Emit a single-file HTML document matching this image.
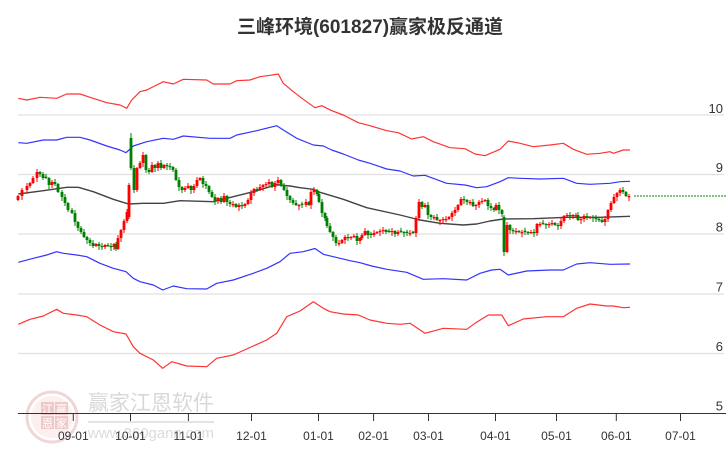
<!DOCTYPE html>
<html>
<head>
<meta charset="utf-8">
<style>
html,body{margin:0;padding:0;background:#fff;}
svg{display:block;}
text{font-family:"Liberation Sans","Noto Sans CJK SC",sans-serif;}
</style>
</head>
<body>
<svg id="chart" width="726" height="450" viewBox="0 0 726 450" xmlns="http://www.w3.org/2000/svg">
  <rect width="726" height="450" fill="#fff"/>
  <!-- title -->
  <text x="370" y="33" text-anchor="middle" font-size="19" font-weight="bold" fill="#333">三峰环境(601827)赢家极反通道</text>

  <!-- grid -->
  <g stroke="#e0e0e0" stroke-width="1.2">
    <line x1="18" y1="115" x2="724" y2="115"/>
    <line x1="18" y1="174.5" x2="724" y2="174.5"/>
    <line x1="18" y1="234" x2="724" y2="234"/>
    <line x1="18" y1="294" x2="724" y2="294"/>
    <line x1="18" y1="353.5" x2="724" y2="353.5"/>
  </g>
  <g font-size="13" fill="#333" text-anchor="end">
    <text x="723" y="113">10</text>
    <text x="723" y="172">9</text>
    <text x="723" y="231.5">8</text>
    <text x="723" y="291.5">7</text>
    <text x="723" y="351">6</text>
    <text x="723" y="410.5">5</text>
  </g>

  <!-- watermark -->
  <g opacity="0.9">
    <circle cx="52" cy="417" r="25" fill="none" stroke="#f0d2d2" stroke-width="3"/>
    <circle cx="52" cy="417" r="21" fill="#fbeeee" stroke="none"/>
    <rect x="41" y="402" width="13" height="13" fill="#eec4c4"/>
    <rect x="55" y="402" width="13" height="13" fill="#eec4c4"/>
    <rect x="41" y="416" width="13" height="13" fill="#eec4c4"/>
    <rect x="55" y="416" width="13" height="13" fill="#eec4c4"/>
    <g font-size="11" fill="#fff" text-anchor="middle">
      <text x="47.5" y="413">江</text>
      <text x="61.5" y="413">赢</text>
      <text x="47.5" y="427">恩</text>
      <text x="61.5" y="427">家</text>
    </g>
    <text x="88" y="410" font-size="21" fill="#d4d4d4">赢家江恩软件</text>
    <line x1="88" y1="422" x2="214" y2="422" stroke="#e2e2e2" stroke-width="2"/>
    <text x="88" y="438" font-size="15" fill="#d8d8d8" textLength="126">www.360gann.com</text>
  </g>

  <!-- bands -->
  <g fill="none" stroke-width="1.2" stroke-linejoin="round">
    <polyline stroke="#ff0000" stroke-opacity="0.8" points="18.3,98.3 26.7,100 40,97.3 56.7,98.3 66.7,94 80,94 90,97.3 106.7,102.7 120,105 126.7,108.3 131.7,100 140,91.7 146.7,90 156.7,85 163.3,81.7 173.3,84 183.3,79.3 206.7,80 213.3,84 230,84 236.7,80.7 250,80 260,76.7 270,75.3 278.3,74 283.3,83.3 293.3,91.7 303.3,99.3 315,107.7 321.7,105.7 331.7,110.7 343.3,115 358.3,122.7 370,125.7 386.7,130.7 398.3,132.7 411.7,139 423.3,136.7 433.3,141.7 450,147.7 465,148.7 475,154 485,155.7 500,149.3 508.3,141 520,143.3 533.3,146.7 550,145 563.3,143.3 573.3,149.3 586.7,154.3 600,153.3 610,151.7 613.3,153.3 623.3,150 630,150"/>
    <polyline stroke="#0000ff" stroke-opacity="0.8" points="18.3,142.7 26.7,143.3 43.3,140 56.7,140 66.7,137.3 80,137.3 90,140 106.7,146 120,150 126,152.7 133.3,146 146.7,141.7 163.3,138.3 173.3,139.3 183.3,136 210,138.3 230,138.3 236.7,135 256.7,130.7 276.7,125.7 283.3,130 296.7,138.3 313.3,145 323.3,146 331.7,150 343.3,154 358.3,160 370,163.3 386.7,169 400,171 413.3,176 425,175.3 446.7,183.3 465,185 476.7,187.7 486.7,186.7 500,181.7 508.3,177.7 520,178.3 540,179 563.3,178.3 576.7,183.3 590,184.3 610,183.3 620,181.7 630,181.3"/>
    <polyline stroke="#222" stroke-opacity="0.85" stroke-width="1.4" points="18.3,194 43.3,190.7 66.7,187.3 78.3,187.3 93.3,191.7 113.3,199.3 128.3,204 143.3,203.3 163.3,203.3 180,200.7 213.3,201.7 233.3,196.7 253.3,191.7 276.7,184.7 290,186 300,187.7 313.3,189.3 320,192.3 343.3,199.3 366.7,207.7 400,215 420,220 440,223.3 463.3,225 476.7,224 490,221 503.3,219 533.3,218.7 566.7,217.3 600,217.3 630,216.3"/>
    <polyline stroke="#0000ff" stroke-opacity="0.8" points="18.3,262.3 33.3,258.3 46.7,255 56.7,251.7 63.3,253.3 76.7,255 86.7,256.7 100,263.3 113.3,268.3 126,271.7 133.3,278.3 140,281.7 153.3,285 162.7,290 173.3,286 186.7,288.7 206.7,289 216.7,283.3 233.3,280 253.3,273.3 266.7,268.3 280,261.7 290,253.3 303.3,251.7 315,248.5 323.3,254.3 333.3,256.7 350,260.7 360,262.7 371.7,266 386.7,269.3 406.7,272.3 423.3,279.3 443.3,278.7 466.7,280 480,273.3 491.7,270 500,269.3 508.3,275 526.7,271 550,270 563.3,270 576.7,264 590,262.7 610,264.3 630,264"/>
    <polyline stroke="#ff0000" stroke-opacity="0.8" points="18.3,324.3 30,319.3 43.3,316 56.7,309.3 63.3,313.3 76.7,315 86.7,316.7 100,325 113.3,331.7 126,334 133.3,346.7 140,353.3 153.3,360 162.7,368.3 171.7,361.7 186.7,366 206.7,366.7 216.7,358.3 233.3,355 253.3,346 266.7,340 276.7,333.3 286.7,316.7 300,311 313.3,301.7 323.3,308.3 330,311.7 343.3,314 358.3,315 370,320 386.7,323.3 400,324.3 410,323.3 425,333.3 443.3,328.3 466.7,329.3 475,323.3 488.3,315 501.7,315 508.3,325.7 523.3,319 546.7,316.7 563.3,316.7 576.7,308.3 590,304 606.7,306 613.3,306 623.3,307.7 630,307.3"/>
    <line x1="634" y1="196" x2="726" y2="196" stroke="#008000" stroke-width="1" stroke-dasharray="2,1"/>
  </g>

  <g id="candles"></g>

  <!-- x axis -->
  <line x1="18" y1="413.5" x2="726" y2="413.5" stroke="#333" stroke-width="1"/>
  <g stroke="#333" stroke-width="1">
    <line x1="73.3" y1="413" x2="73.3" y2="421"/>
    <line x1="130.5" y1="413" x2="130.5" y2="421"/>
    <line x1="188.4" y1="413" x2="188.4" y2="421"/>
    <line x1="251.5" y1="413" x2="251.5" y2="421"/>
    <line x1="318.5" y1="413" x2="318.5" y2="421"/>
    <line x1="373.6" y1="413" x2="373.6" y2="421"/>
    <line x1="428.5" y1="413" x2="428.5" y2="421"/>
    <line x1="495.5" y1="413" x2="495.5" y2="421"/>
    <line x1="556.5" y1="413" x2="556.5" y2="421"/>
    <line x1="616.3" y1="413" x2="616.3" y2="421"/>
    <line x1="680.5" y1="413" x2="680.5" y2="421"/>
  </g>
  <g font-size="12" fill="#333" text-anchor="middle">
    <text x="73.3" y="440">09-01</text>
    <text x="130.5" y="440">10-01</text>
    <text x="188.4" y="440">11-01</text>
    <text x="251.5" y="440">12-01</text>
    <text x="318.5" y="440">01-01</text>
    <text x="373.6" y="440">02-01</text>
    <text x="428.5" y="440">03-01</text>
    <text x="495.5" y="440">04-01</text>
    <text x="556.5" y="440">05-01</text>
    <text x="616.3" y="440">06-01</text>
    <text x="680.5" y="440">07-01</text>
  </g>
</svg>
<script>
(function(){
var P=[[18,196],[22,190],[27,186],[30,183],[33,178],[37,172],[40,174],[43,178],[46,178],[49,185],[52,182],[55,184],[58,192],[62,197],[65,203],[68,210],[72,213],[75,222],[78,228],[81,232],[84,237],[87,240],[90,243],[93,246],[96,244],[99,246],[102,247],[105,245],[108,246],[111,247],[114,244],[116,249],[118,238],[121,230],[124,221],[127,212],[129,185],[131,168],[134,190],[137,168],[140,163],[143,155],[146,170],[149,172],[152,165],[155,168],[158,163],[161,168],[164,165],[167,166],[170,167],[173,170],[176,180],[179,187],[182,190],[185,188],[188,186],[191,190],[194,186],[197,180],[200,178],[203,184],[206,186],[209,192],[212,197],[215,201],[218,198],[221,202],[224,196],[227,202],[230,204],[233,204],[236,207],[239,205],[242,206],[245,204],[248,200],[251,193],[254,189],[257,190],[260,187],[263,185],[266,184],[269,182],[272,187],[275,183],[278,180],[281,185],[284,190],[287,196],[290,200],[293,203],[296,205],[299,205],[302,205],[306,202],[309,205],[311,192],[314,190],[317,194],[319,202],[322,213],[325,218],[327,226],[330,232],[333,237],[336,243],[339,243],[342,240],[345,237],[348,238],[351,237],[354,236],[357,241],[360,238],[362,235],[365,231],[368,235],[371,235],[374,233],[377,232],[380,231],[383,230],[386,232],[389,232],[392,231],[395,234],[398,232],[401,232],[404,233],[407,233],[410,233],[413,233],[416,218],[419,202],[422,207],[425,205],[428,215],[431,217],[434,217],[437,220],[440,220],[443,219],[446,219],[449,217],[452,213],[455,210],[458,205],[461,199],[464,200],[467,202],[470,202],[473,206],[476,205],[479,202],[482,201],[485,200],[488,206],[491,208],[494,210],[496,205],[499,210],[502,214],[504,252],[507,225],[510,230],[513,231],[516,231],[519,232],[522,232],[525,232],[528,233],[531,232],[534,233],[537,224],[540,224],[543,224],[546,225],[549,224],[552,223],[555,225],[558,226],[561,221],[564,216],[567,215],[570,216],[573,215],[576,215],[578,220],[581,219],[584,216],[587,218],[590,217],[593,218],[596,219],[599,220],[602,222],[605,219],[608,210],[611,203],[614,197],[617,193],[620,190],[623,192],[626,196],[629,196]];
var ov={129:[217,185,183,219],131:[138,168,133,170],504:[217,252,215,256]};
var g=document.getElementById("candles");
var prev=P[0][1]+4;
var s="";
for(var i=0;i<P.length;i++){
  var x=P[i][0],c=P[i][1],o=prev,hi,lo;
  if(Math.abs(c-o)<1){o=c+(i%2?1.3:-1.3);}
  hi=Math.min(o,c)-(1+i%3);
  lo=Math.max(o,c)+(1+(i*7)%4);
  if(ov[x]){o=ov[x][0];c=ov[x][1];hi=ov[x][2];lo=ov[x][3];}
  var col=(c<o)?"#ff0000":"#008000";
  var top=Math.min(o,c),h=Math.max(Math.abs(c-o),1.2);
  s+='<line x1="'+x+'" y1="'+hi+'" x2="'+x+'" y2="'+lo+'" stroke="'+col+'" stroke-width="1"/>';
  s+='<rect x="'+(x-1.4)+'" y="'+top+'" width="2.8" height="'+h+'" fill="'+col+'"/>';
  prev=P[i][1];
}
g.innerHTML=s;
})();
</script>
</body>
</html>
